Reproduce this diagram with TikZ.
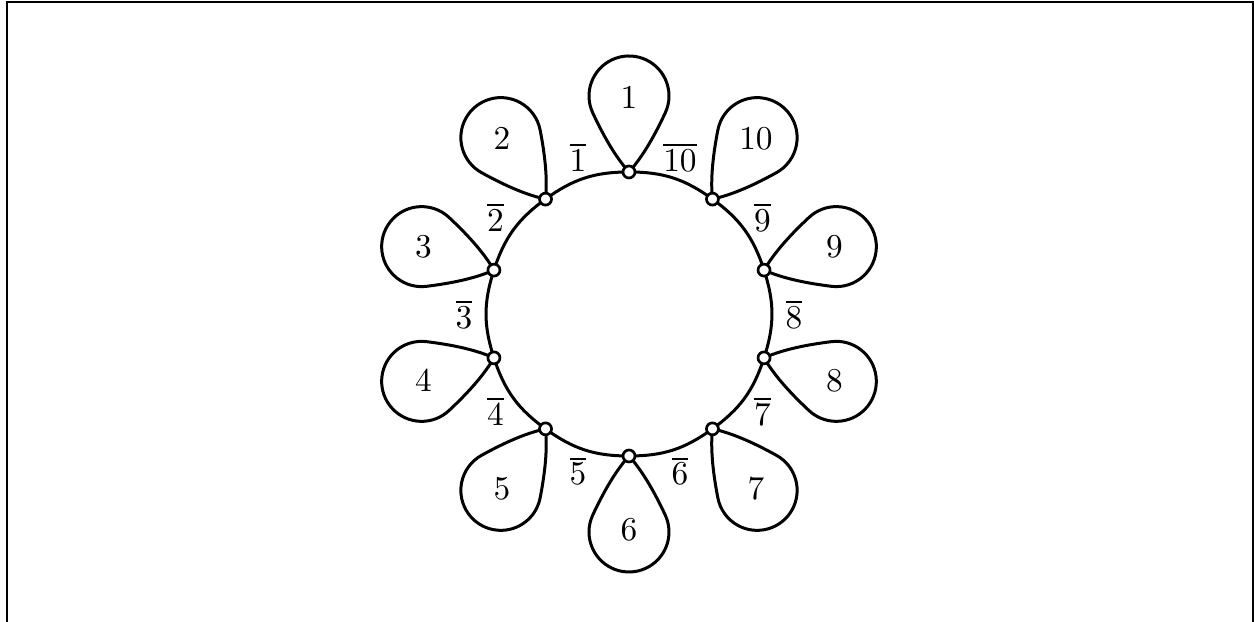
\documentclass[tikz,border=0pt]{standalone}
\begin{document}
\begin{tikzpicture}[x=0.3pt,y=0.3pt,
  vtx/.style={circle,draw,fill=white,inner sep=0pt,minimum size=3.6pt,line width=0.8pt},
  edge/.style={line width=0.9pt},
  frame/.style={line width=0.6pt}]
\useasboundingbox (-629,-308) rectangle (625,314);
\draw[frame] (-622,-308) -- (-622,312) -- (624,312) -- (624,-308);
\foreach \k in {1,...,10}{
  \pgfmathsetmacro\a{90+36*(\k-1)}
  \coordinate (c\k) at (\a:142);
}
\foreach \k in {1,...,10}{
  \pgfmathsetmacro\a{90+36*(\k-1)}
  \pgfmathtruncatemacro\n{mod(\k,10)+1}
  \pgfmathsetmacro\m{108+36*(\k-1)}
  \begin{scope}[shift={(c\k)},rotate=\a]
    \draw[edge] (0,0) .. controls (16.35,14.72) and (39.16,26.95) .. (59.1,36.25)
      arc[start angle=115,end angle=-115,radius=40]
      .. controls (39.16,-26.95) and (16.35,-14.72) .. (0,0);
  \end{scope}
  \draw[edge] (c\k) to[bend right=18] (c\n);
  \node (p\k) at (\a:216) {$\k$};
  \node (e\k) at (\m:165) {$\overline{\k}$};
}
\foreach \k in {1,...,10}{
  \node[vtx] (v\k) at (c\k) {};
}
\end{tikzpicture}
\end{document}
